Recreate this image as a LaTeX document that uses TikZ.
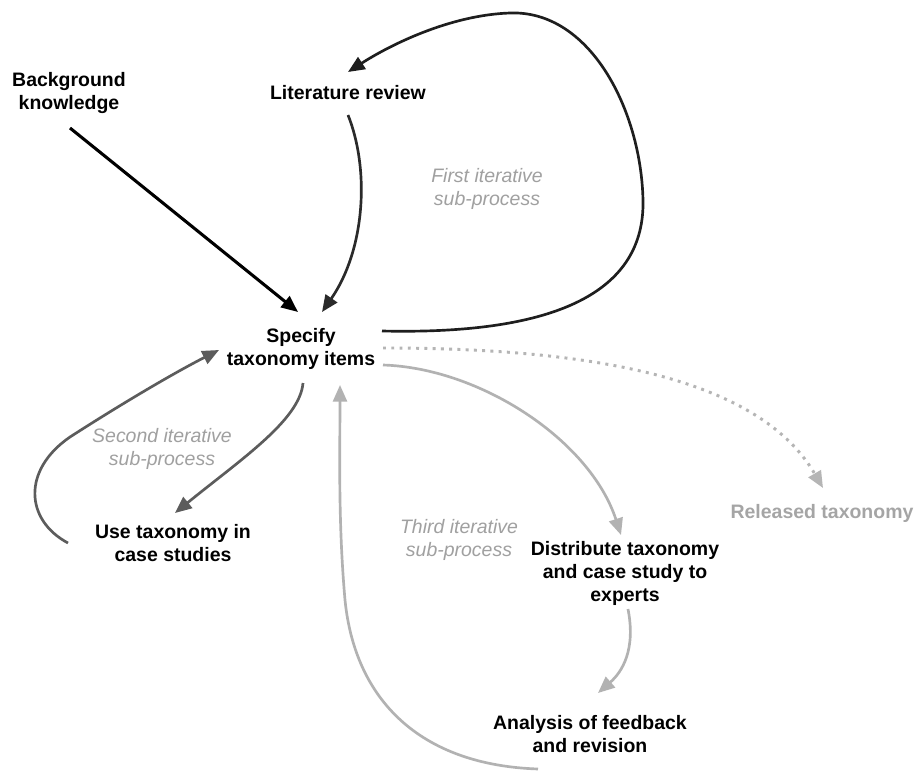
\documentclass[tikz,border=0pt]{standalone}
\usepackage{fontspec}
\setmainfont{Liberation Sans}
\usetikzlibrary{arrows.meta}
\definecolor{litc}{HTML}{2A2A2A}
\definecolor{loopc}{HTML}{1E1E1E}
\definecolor{secc}{HTML}{5C5C5C}
\definecolor{thirdc}{HTML}{B2B2B2}
\definecolor{dotc}{HTML}{B5B5B5}
\definecolor{lblgray}{HTML}{A0A0A0}
\definecolor{relgray}{HTML}{A5A5A5}
\begin{document}
\begin{tikzpicture}[x=0.75pt,y=-0.75pt,
  box/.style={font=\bfseries\fontsize{14.6}{17.25}\selectfont, align=center, inner sep=0pt},
  lbl/.style={font=\itshape\fontsize{14.6}{17.25}\selectfont, align=center, text=lblgray, inner sep=0pt},
  arr/.style={-{Triangle[length=12.5pt,width=10.5pt]}, line width=2pt},
  dotline/.style={-{Triangle[length=12.5pt,width=10.5pt]}, line width=2.2pt, dash pattern=on 2.2pt off 4pt, color=dotc},
]
\useasboundingbox (0,0) rectangle (914,771);
\fill[white] (0,0) rectangle (914,771);

% nodes
\node[box] (bg) at (69,93) {Background\\knowledge};
\node[box] (lit) at (348,93) {Literature review};
\node[box] (spec) at (301,349) {Specify\\taxonomy items};
\node[box] (use) at (173,543) {Use taxonomy in\\case studies};
\node[box] (dist) at (625,573) {Distribute taxonomy\\and case study to\\experts};
\node[box] (ana) at (590,734) {Analysis of feedback\\and revision};
\node[box, text=relgray] (rel) at (822,513) {Released taxonomy};
\node[lbl] (l1) at (487,189) {First iterative\\sub-process};
\node[lbl] (l2) at (162,449) {Second iterative\\sub-process};
\node[lbl] (l3) at (459,540) {Third iterative\\sub-process};

% connectors
\draw[arr, black, line width=2.3pt] ([shift={(1,35)}]bg.center) -- ([shift={(-3,-37)}]spec.center);

\draw[arr, litc] ([shift={(0,22)}]lit.center) .. controls (370,170) and (365,250) .. ([shift={(21,-37)}]spec.center);

\draw[arr, loopc] ([shift={(81,-18)}]spec.center)
  .. controls (560,335) and (645,290) .. (643,200)
  .. controls (641,110) and (590,10) .. (510,13)
  .. controls (450,15) and (390,45) .. ([shift={(0,-21)}]lit.center);

\draw[dotline] ([shift={(82,-1)}]spec.center) .. controls (600,348) and (760,380) .. ([shift={(1,-25)}]rel.center);

\draw[arr, thirdc] ([shift={(82,16)}]spec.center) .. controls (480,368) and (590,440) .. ([shift={(-4,-38)}]dist.center);

\draw[arr, thirdc] ([shift={(3,36)}]dist.center) .. controls (636,650) and (622,672) .. ([shift={(8,-41)}]ana.center);

\draw[arr, thirdc] ([shift={(-52,35)}]ana.center)
  .. controls (420,765) and (355,700) .. (345,600)
  .. controls (338,520) and (340,450) .. ([shift={(39,36)}]spec.center);

\draw[arr, secc] ([shift={(2,34)}]spec.center) .. controls (300,420) and (240,460) .. ([shift={(2,-30)}]use.center);

\draw[arr, secc] ([shift={(-105,0)}]use.center)
  .. controls (25,520) and (22,470) .. (70,437)
  .. controls (115,408) and (170,375) .. ([shift={(-82,1)}]spec.center);
\end{tikzpicture}
\end{document}
